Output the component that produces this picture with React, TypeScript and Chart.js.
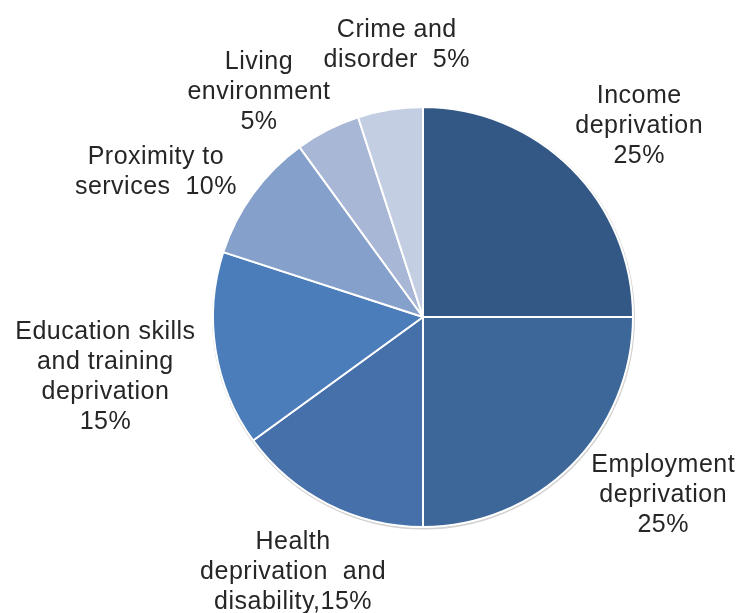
import React, { useEffect, useRef } from "react";
import { Chart, registerables } from "chart.js";

Chart.register(...registerables);

const categories = [
  "Income deprivation",
  "Employment deprivation",
  "Health deprivation and disability",
  "Education skills and training deprivation",
  "Proximity to services",
  "Living environment",
  "Crime and disorder",
];
const shares = [25, 25, 15, 15, 10, 5, 5];
const labelTemplates = [
  "Income\ndeprivation\n{v}%",
  "Employment\ndeprivation\n{v}%",
  "Health\ndeprivation  and\ndisability,{v}%",
  "Education skills\nand training\ndeprivation\n{v}%",
  "Proximity to\nservices  {v}%",
  "Living\nenvironment\n{v}%",
  "Crime and\ndisorder  {v}%",
];
const sliceColors = ["#335886", "#3d6699", "#4570aa", "#4a7dba", "#85a0cb", "#a9b7d6", "#c3cee3"];

const ringPlugin = {
  id: "ring",
  beforeDatasetsDraw(chart: any) {
    const meta = chart.getDatasetMeta(0);
    const arc = meta.data[0];
    if (!arc) return;
    const { x, y, outerRadius } = arc.getProps(["x", "y", "outerRadius"], true);
    const ctx = chart.ctx;
    ctx.save();
    ctx.beginPath();
    ctx.arc(x + 0.5, y + 1, outerRadius + 0.5, 0, Math.PI * 2);
    ctx.strokeStyle = "rgba(0,0,0,0.18)";
    ctx.lineWidth = 2;
    ctx.stroke();
    ctx.restore();
  },
};

const labelPlugin = {
  id: "outsideLabels",
  afterDatasetsDraw(chart: any, _args: any, opts: any) {
    const ctx = chart.ctx;
    const meta = chart.getDatasetMeta(0);
    ctx.save();
    ctx.font = opts.font;
    if ("letterSpacing" in ctx) (ctx as any).letterSpacing = opts.letterSpacing;
    ctx.fillStyle = opts.color;
    ctx.textAlign = "center";
    ctx.textBaseline = "middle";
    meta.data.forEach((arc: any, i: number) => {
      const { x, y, startAngle, endAngle, outerRadius } = arc.getProps(
        ["x", "y", "startAngle", "endAngle", "outerRadius"],
        true
      );
      const mid = (startAngle + endAngle) / 2;
      const ux = Math.cos(mid);
      const uy = Math.sin(mid);
      const lines = labelTemplates[i].replace("{v}", String(shares[i])).split("\n");
      const w = Math.max(...lines.map((l) => ctx.measureText(l).width));
      const h = lines.length * opts.lineHeight;
      const support = (w / 2) * Math.abs(ux) + (h / 2) * Math.abs(uy);
      const d = outerRadius + opts.gap + support;
      const off = opts.offsets[i] || [0, 0];
      const cx = x + ux * d + off[0];
      const cy = y + uy * d + off[1];
      lines.forEach((l: string, j: number) =>
        ctx.fillText(l, cx, cy - h / 2 + opts.lineHeight * (j + 0.5))
      );
    });
    ctx.restore();
  },
};

export default function App() {
  const ref = useRef<HTMLCanvasElement | null>(null);
  useEffect(() => {
    if (!ref.current) return;
    const chart = new Chart(ref.current, {
      type: "pie",
      data: {
        labels: categories,
        datasets: [
          {
            data: shares,
            backgroundColor: sliceColors,
            borderColor: "#ffffff",
            borderWidth: 2,
          },
        ],
      },
      options: {
        responsive: false,
        animation: false,
        devicePixelRatio: 1,
        layout: { padding: { left: 212, right: 105, top: 106, bottom: 85 } },
        plugins: {
          legend: { display: false },
          tooltip: { enabled: false },
          outsideLabels: {
            font: "25px 'Liberation Sans', Arial, sans-serif",
            letterSpacing: "0.5px",
            color: "#262626",
            lineHeight: 30,
            gap: 6,
            offsets: [
              [9, 16],
              [29, -33],
              [5.5, -11],
              [-7, 11],
              [-25, 31],
              [-33, 32],
              [14, -18],
            ],
          },
        } as any,
      },
      plugins: [ringPlugin, labelPlugin],
    });
    return () => chart.destroy();
  }, []);
  return (
    <div style={{ position: "absolute", left: 0, top: 0, width: 739, height: 613, background: "#ffffff" }}>
      <canvas ref={ref} width={739} height={613} style={{ display: "block" }} />
    </div>
  );
}
